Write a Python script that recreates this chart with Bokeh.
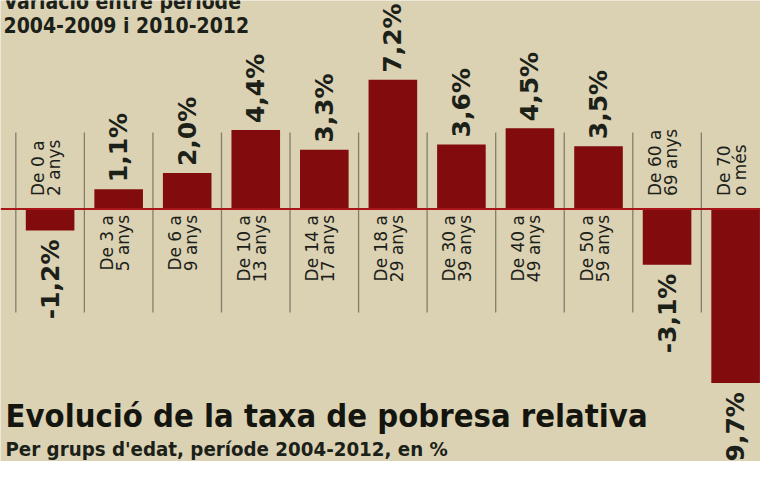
import math
from bokeh.plotting import figure
from bokeh.models import Range1d, ColumnDataSource, Label
from bokeh.core.properties import value
from bokeh.embed import file_html
from bokeh.resources import INLINE

# ---- data ----
cat_line1 = ["De 0 a", "De 3 a", "De 6 a", "De 10 a", "De 14 a", "De 18 a",
             "De 30 a", "De 40 a", "De 50 a", "De 60 a", "De 70"]
cat_line2 = ["2 anys", "5 anys", "9 anys", "13 anys", "17 anys", "29 anys",
             "39 anys", "49 anys", "59 anys", "69 anys", "o més"]
values = [-1.2, 1.1, 2.0, 4.4, 3.3, 7.2, 3.6, 4.5, 3.5, -3.1, -9.7]
value_labels = [f"{v:.1f}".replace(".", ",") + "%" for v in values]

title_text = "Evolució de la taxa de pobresa relativa"
subtitle_text = "Per grups d'edat, període 2004-2012, en %"
top_line1 = "Variació entre període"
top_line2 = "2004-2009 i 2010-2012"

# ---- style ----
BG = "#dbd2b4"
BAR = "#820b0d"
BASE = "#a8161a"
INK = "#1b2118"
SEP = "#847e6b"
COND = "DejaVu Sans Condensed"
FONT = "DejaVu Sans"

W, H = 760, 461
idx = list(range(len(values)))

p = figure(width=W, height=H, output_backend="svg", toolbar_location=None,
           x_range=Range1d(-0.7236, 10.363), y_range=Range1d(-14.067, 11.616),
           min_border=0, background_fill_color=BG, border_fill_color=BG,
           outline_line_color=None)
p.axis.visible = False
p.grid.visible = False

# separators between columns
sep_x = [i - 0.5 for i in idx]
p.segment(x0=sep_x, x1=sep_x, y0=[4.26] * len(sep_x), y1=[-5.77] * len(sep_x),
          line_color=SEP, line_width=1.3)

src = ColumnDataSource(dict(x=idx, top=values))
p.vbar(x="x", top="top", bottom=0, width=0.709, source=src, fill_color=BAR, line_color=None)

# baseline
p.segment(x0=[-0.72], x1=[10.5], y0=[0], y1=[0], line_color=BASE, line_width=2)

pos = [i for i, v in enumerate(values) if v >= 0]
neg = [i for i, v in enumerate(values) if v < 0]

def sub(ids):
    return ColumnDataSource(dict(x=[idx[i] for i in ids],
                                 y=[values[i] for i in ids],
                                 zero=[0] * len(ids),
                                 l1=[cat_line1[i] for i in ids],
                                 l2=[cat_line2[i] for i in ids],
                                 lab=[value_labels[i] for i in ids]))

sp, sn = sub(pos), sub(neg)

common_val = dict(angle=math.pi / 2, text_baseline="middle", text_font=value(FONT),
                  text_font_style="bold", text_font_size="25px", text_color=INK)
p.text(x="x", y="y", text="lab", source=sp, y_offset=-7, text_align="left", **common_val)
p.text(x="x", y="y", text="lab", source=sn, y_offset=9, text_align="right", **common_val)

common_cat = dict(angle=math.pi / 2, text_baseline="middle", text_font=value(FONT),
                  text_font_size="17px", text_color=INK)
for col, dx in (("l1", -12), ("l2", 4)):
    p.text(x="x", y="zero", text=col, source=sp, x_offset=dx, y_offset=6,
           text_align="right", **common_cat)
    p.text(x="x", y="zero", text=col, source=sn, x_offset=dx, y_offset=-13,
           text_align="left", **common_cat)

# titles (labels in screen units)
def lab(txt, x, y, size, bold=True, color=INK):
    p.add_layout(Label(x=x, y=y, x_units="screen", y_units="screen", text=txt,
                       text_font=COND, text_font_size=size,
                       text_font_style="bold" if bold else "normal",
                       text_color=color, text_baseline="middle"))

lab(top_line1, 3, H - 9 + 7.3, "21px")
lab(top_line2, 3, H - 33 + 7.3, "21px")
lab(title_text, 5, H - 427 + 11.4, "32.5px", color="#15150f")
lab(subtitle_text, 5, H - 456 + 7.1, "20.3px")

open("out.html", "w").write(file_html(p, INLINE))
